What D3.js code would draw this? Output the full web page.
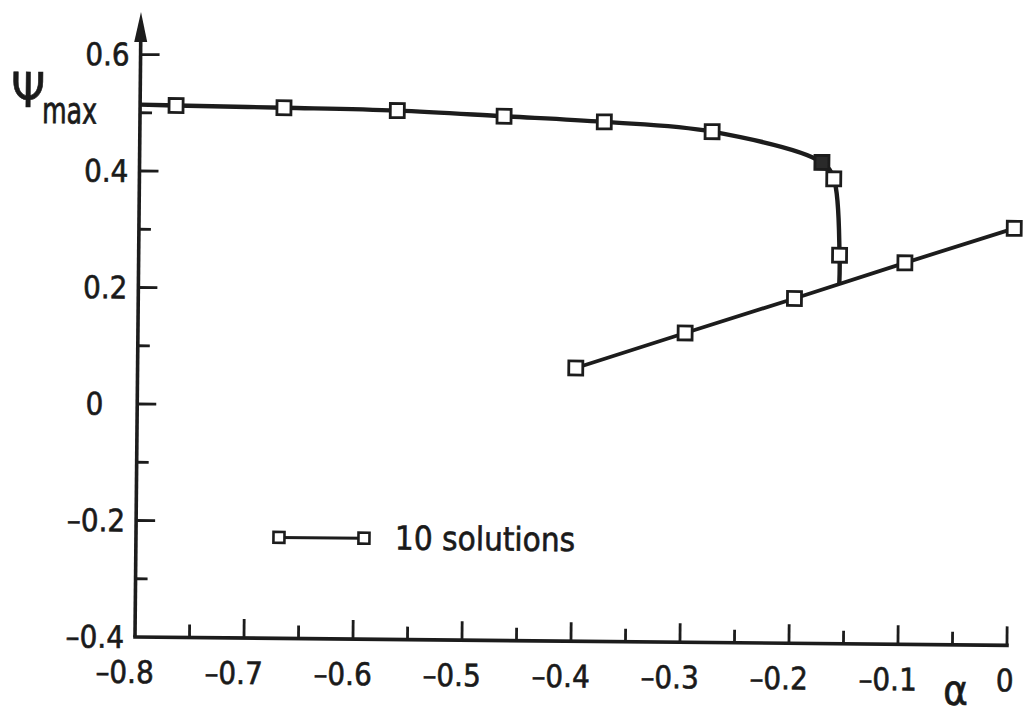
<!DOCTYPE html>
<html>
<head>
<meta charset="utf-8">
<script src="https://cdn.jsdelivr.net/npm/d3@7"></script>
<style>
  html, body { margin: 0; padding: 0; background: #fff; }
  svg { display: block; }
  text { font-family: "DejaVu Sans Condensed", "DejaVu Sans", sans-serif; fill: #1a1a1a; stroke: #1a1a1a; stroke-width: 0.6px; }
</style>
</head>
<body>
<svg id="chart" width="1027" height="719"></svg>
<script>
// ---- data ----
// upper (bent) branch: start at axis, markers, end at the junction with the lower branch
const alphaUpper = [-0.8, -0.767, -0.668, -0.564, -0.466, -0.374, -0.275, -0.174, -0.163, -0.157, -0.157];
const psiUpper   = [0.514, 0.513, 0.511, 0.508, 0.500, 0.492, 0.477, 0.426, 0.398, 0.267, 0.218];
const markUpper  = ["none", "open", "open", "open", "open", "open", "open", "filled", "open", "open", "none"];
// lower (straight) branch
const alphaLower = [-0.398, -0.298, -0.198, -0.097, 0.003];
const psiLower   = [0.069, 0.131, 0.192, 0.255, 0.316];

const xTickValues = [-0.8, -0.7, -0.6, -0.5, -0.4, -0.3, -0.2, -0.1, 0];
const xTickLabels = ["\u20130.8", "\u20130.7", "\u20130.6", "\u20130.5", "\u20130.4", "\u20130.3", "\u20130.2", "\u20130.1", "0"];
const yTickValues = [-0.4, -0.2, 0, 0.2, 0.4, 0.6];
const yTickLabels = ["\u20130.4", "\u20130.2", "0", "0.2", "0.4", "0.6"];
const legendLabel = "10 solutions";
const xTitle = "\u03b1";
const yTitleMain = "\u03a8";
const yTitleSub = "max";

// ---- layout ----
const svg = d3.select("#chart");
const x0 = 135, x1 = 1007, yBot = 637, yTop = 54.5;
const x = d3.scaleLinear().domain([-0.8, 0]).range([x0, x1]);
const y = d3.scaleLinear().domain([-0.4, 0.6]).range([yBot, yTop]);
const ink = "#1c1c1c";

// scanned page is slightly rotated
const g = svg.append("g").attr("transform", `rotate(0.55, ${x0}, ${yBot})`);

// ---- axes ----
g.append("line").attr("x1", x0).attr("x2", x1).attr("y1", yBot).attr("y2", yBot)
  .attr("stroke", ink).attr("stroke-width", 3.6).attr("stroke-linecap", "square");
g.append("line").attr("x1", x0).attr("x2", x0).attr("y1", yBot).attr("y2", 36)
  .attr("stroke", ink).attr("stroke-width", 3.6);
g.append("path").attr("d", `M${x0},12 L${x0 - 6.5},42 L${x0 + 6.5},42 Z`).attr("fill", ink);

// x ticks (every 0.05, major every 0.1), pointing up
const xMinor = d3.range(-15, 1).map(i => i * 0.05);
g.selectAll(".xt").data(xMinor).join("line")
  .attr("x1", d => x(d)).attr("x2", d => x(d))
  .attr("y1", yBot)
  .attr("y2", (d, i) => yBot - ((i % 2 === 1) ? 19 : 13))
  .attr("stroke", ink).attr("stroke-width", 2.8);

// y ticks (every 0.1, major every 0.2), pointing right
const yMinor = d3.range(-3, 7).map(i => i * 0.1);
g.selectAll(".yt").data(yMinor).join("line")
  .attr("x1", x0).attr("x2", (d, i) => x0 + ((i % 2 === 1) ? 19 : 12))
  .attr("y1", d => y(d)).attr("y2", d => y(d))
  .attr("stroke", ink).attr("stroke-width", 2.8);

// x tick labels
g.selectAll(".xl").data(xTickValues).join("text")
  .attr("x", (d, i) => x(d) - (xTickLabels[i].startsWith("\u2013") ? 10 : 2))
  .attr("y", yBot + 46)
  .attr("text-anchor", "middle")
  .attr("font-size", 31)
  .text((d, i) => xTickLabels[i]);

// y tick labels
g.selectAll(".yl").data(yTickValues).join("text")
  .attr("x", (d, i) => yTickLabels[i] === "0" ? 101 : 124)
  .attr("y", d => y(d) + 11)
  .attr("text-anchor", "end")
  .attr("font-size", 31)
  .text((d, i) => yTickLabels[i]);

// axis titles
g.append("text").attr("x", 956).attr("y", 697).attr("text-anchor", "middle")
  .attr("font-size", 42).attr("font-family", "DejaVu Sans").text(xTitle);
g.append("text").attr("x", 6).attr("y", 108).attr("font-size", 48).text(yTitleMain);
g.append("text").attr("transform", "translate(37,124) scale(1,1.3)")
  .attr("font-size", 28).text(yTitleSub);

// ---- data lines ----
const upper = alphaUpper.map((a, i) => ({ a, p: psiUpper[i], m: markUpper[i] }));
const lower = alphaLower.map((a, i) => ({ a, p: psiLower[i], m: "open" }));

const curveLine = d3.line().x(d => x(d.a)).y(d => y(d.p)).curve(d3.curveCatmullRom.alpha(0.5));
const straight = d3.line().x(d => x(d.a)).y(d => y(d.p));

g.append("path").attr("d", curveLine(upper)).attr("fill", "none")
  .attr("stroke", ink).attr("stroke-width", 4.4);
g.append("path").attr("d", straight(lower)).attr("fill", "none")
  .attr("stroke", ink).attr("stroke-width", 3.8);

const s = 14;
const pts = upper.filter(d => d.m !== "none").concat(lower);
g.selectAll(".mk").data(pts).join("rect")
  .attr("x", d => x(d.a) - s / 2).attr("y", d => y(d.p) - s / 2)
  .attr("width", s).attr("height", s)
  .attr("fill", d => d.m === "filled" ? "#2a2a2a" : "#fff")
  .attr("stroke", ink).attr("stroke-width", 2.8);

// ---- legend ----
const lg = g.append("g");
const lx1 = 278, lx2 = 363, ly = 536, ls = 11;
lg.append("line").attr("x1", lx1).attr("x2", lx2).attr("y1", ly).attr("y2", ly)
  .attr("stroke", ink).attr("stroke-width", 3);
[lx1, lx2].forEach(cx => {
  lg.append("rect").attr("x", cx - ls / 2).attr("y", ly - ls / 2).attr("width", ls).attr("height", ls)
    .attr("fill", "#fff").attr("stroke", ink).attr("stroke-width", 2.6);
});
lg.append("text").attr("x", 394).attr("y", 547).attr("font-size", 33).text(legendLabel);
</script>
</body>
</html>
